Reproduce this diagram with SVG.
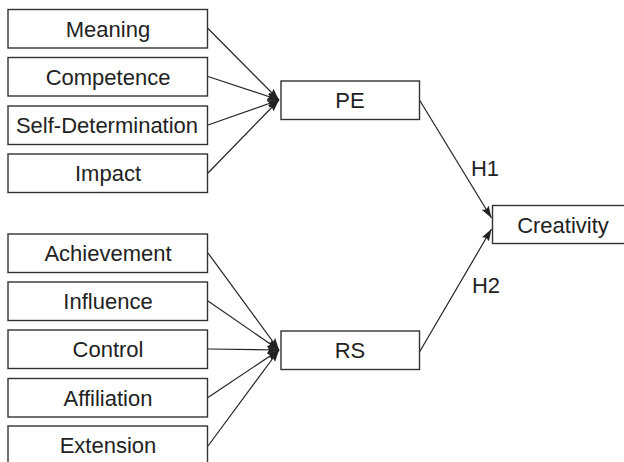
<svg xmlns="http://www.w3.org/2000/svg" width="624" height="462" viewBox="0 0 624 462">
<defs>
<marker id="ah" viewBox="0 0 12 8" refX="12" refY="4" markerWidth="12" markerHeight="8" markerUnits="userSpaceOnUse" orient="auto">
<path d="M0,0 L12,4 L0,8 L2,4 Z" fill="#222"/>
</marker>
</defs>
<style>
.box{fill:#fff;stroke:#333;stroke-width:1.4}
.t{font-family:"Liberation Sans",Arial,sans-serif;font-size:22px;fill:#222;text-anchor:middle}
.c{stroke:#222;stroke-width:1.2;fill:none;marker-end:url(#ah)}
</style>
<rect width="624" height="462" fill="#fff"/>
<g id="connectors">
<line class="c" x1="208" y1="28.5" x2="279" y2="100"/>
<line class="c" x1="208" y1="76.5" x2="279" y2="100"/>
<line class="c" x1="208" y1="125" x2="279" y2="100"/>
<line class="c" x1="208" y1="173" x2="279" y2="100"/>
<line class="c" x1="208" y1="253" x2="279" y2="350"/>
<line class="c" x1="208" y1="301" x2="279" y2="350"/>
<line class="c" x1="208" y1="349" x2="279" y2="350"/>
<line class="c" x1="208" y1="397.5" x2="279" y2="350"/>
<line class="c" x1="208" y1="446" x2="279" y2="350"/>
<line class="c" x1="419.5" y1="100" x2="491.5" y2="218"/>
<line class="c" x1="419.5" y1="352" x2="491.5" y2="229"/>
<text class="t" x="485" y="176">H1</text>
<text class="t" x="486" y="293">H2</text>
</g>
<g id="meaning"><rect class="box" x="8" y="9.5" width="199.5" height="38.5"/><text class="t" x="108" y="36.5">Meaning</text></g>
<g id="competence"><rect class="box" x="8" y="57.5" width="199.5" height="38.5"/><text class="t" x="108" y="84.5">Competence</text></g>
<g id="selfdetermination"><rect class="box" x="8" y="106" width="199.5" height="38.5"/><text class="t" x="107" y="133">Self-Determination</text></g>
<g id="impact"><rect class="box" x="8" y="154" width="199.5" height="38.5"/><text class="t" x="108" y="181">Impact</text></g>
<g id="achievement"><rect class="box" x="8" y="234" width="199.5" height="38.5"/><text class="t" x="108" y="261">Achievement</text></g>
<g id="influence"><rect class="box" x="8" y="282" width="199.5" height="38.5"/><text class="t" x="108" y="309">Influence</text></g>
<g id="control"><rect class="box" x="8" y="330" width="199.5" height="38.5"/><text class="t" x="108" y="357">Control</text></g>
<g id="affiliation"><rect class="box" x="8" y="378.5" width="199.5" height="38.5"/><text class="t" x="108" y="405.5">Affiliation</text></g>
<g id="extension"><rect class="box" x="8" y="426" width="199.5" height="40"/><text class="t" x="108" y="453">Extension</text></g>
<g id="pe"><rect class="box" x="281" y="81" width="138.5" height="38.5"/><text class="t" x="350" y="107.5">PE</text></g>
<g id="rs"><rect class="box" x="281" y="331" width="138.5" height="38.5"/><text class="t" x="350" y="357.5">RS</text></g>
<g id="creativity"><rect class="box" x="492.5" y="205.5" width="140" height="38"/><text class="t" x="563" y="232.5">Creativity</text></g>
</svg>
